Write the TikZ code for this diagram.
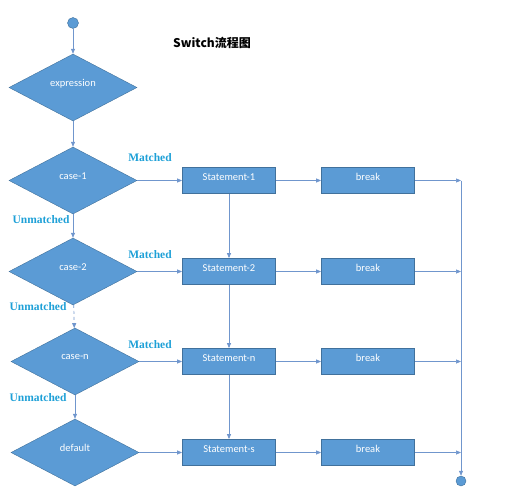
\documentclass[tikz,border=0pt]{standalone}
\usepackage{fontspec}
\usepackage{tikz}
\usetikzlibrary{shapes.geometric,arrows.meta}
\setmainfont{Carlito}
\newfontfamily\cjk{Noto Sans CJK SC}
\newfontfamily\tms{Liberation Serif}
\definecolor{boxfill}{RGB}{91,155,213}
\definecolor{boxline}{RGB}{65,113,156}
\definecolor{wire}{RGB}{112,150,205}
\definecolor{tagblue}{RGB}{30,160,215}

\begin{document}
\begin{tikzpicture}[x=1pt,y=-1pt]
\tikzstyle{cond}=[diamond,aspect=1.9,minimum width=128pt,minimum height=67pt,inner sep=0pt,fill=boxfill,draw=boxline,text=white,font=\fontsize{10.5}{11}\selectfont,text depth=9pt];
\tikzstyle{stmt}=[rectangle,minimum width=93pt,minimum height=26pt,fill=boxfill,draw=boxline,line width=0.8pt,text=white,font=\fontsize{10.5}{11}\selectfont,text depth=7pt];
\tikzstyle{term}=[circle,minimum size=11pt,inner sep=0pt,fill=boxfill,draw=boxline];
\tikzstyle{tag}=[text=tagblue,font=\tms\bfseries\fontsize{11.5}{12}\selectfont];
\tikzstyle{flow}=[-{Triangle[length=5pt,width=4pt]},draw=wire,line width=0.7pt];
\useasboundingbox (0,0) rectangle (513,500);
\node [term] (start) at (73,23) {};
\node [font=\cjk\bfseries\fontsize{12}{14}\selectfont] (title) at (212,43) {Switch流程图};

\node [cond] (e) at (73,87.5) {expression};
\node [cond] (c1) at (73,180.5) {case-1};
\node [cond] (c2) at (73,271.5) {case-2};
\node [cond] (cn) at (75,361.5) {case-n};
\node [cond] (d) at (75,452.5) {default};

\node [stmt] (s1) at (229,180.5) {Statement-1};
\node [stmt] (s2) at (229,271.5) {Statement-2};
\node [stmt] (sn) at (229,361.5) {Statement-n};
\node [stmt] (ss) at (229,452.5) {Statement-s};

\node [stmt] (b1) at (368,180.5) {break};
\node [stmt] (b2) at (368,271.5) {break};
\node [stmt] (bn) at (368,361.5) {break};
\node [stmt] (bs) at (368,452.5) {break};

\coordinate (j1) at (461,180.5);
\coordinate (j2) at (461,271.5);
\coordinate (jn) at (461,361.5);
\coordinate (js) at (461,452.5);
\node [term,minimum size=10pt] (end) at (461,481) {};

\node [tag] at (150,158) {Matched};
\node [tag] at (150,255) {Matched};
\node [tag] at (150,345) {Matched};
\node [tag] at (41,220) {Unmatched};
\node [tag] at (38,307) {Unmatched};
\node [tag] at (38,398) {Unmatched};

\draw [flow] (start) -- (e);
\draw [flow] (e) -- (c1);
\draw [flow] (c1) -- (c2);
\draw [flow,dashed] (c2) -- (cn);
\draw [flow] (cn) -- (d);
\draw [flow] (c1) -- (s1);
\draw [flow] (c2) -- (s2);
\draw [flow] (cn) -- (sn);
\draw [flow] (d) -- (ss);
\draw [flow] (s1) -- (s2);
\draw [flow] (s2) -- (sn);
\draw [flow] (sn) -- (ss);
\draw [flow] (s1) -- (b1);
\draw [flow] (s2) -- (b2);
\draw [flow] (sn) -- (bn);
\draw [flow] (ss) -- (bs);
\draw [flow] (b1) -- (j1);
\draw [flow] (b2) -- (j2);
\draw [flow] (bn) -- (jn);
\draw [flow] (bs) -- (js);
\draw [flow] (j1) -- (end);
\end{tikzpicture}
\end{document}
